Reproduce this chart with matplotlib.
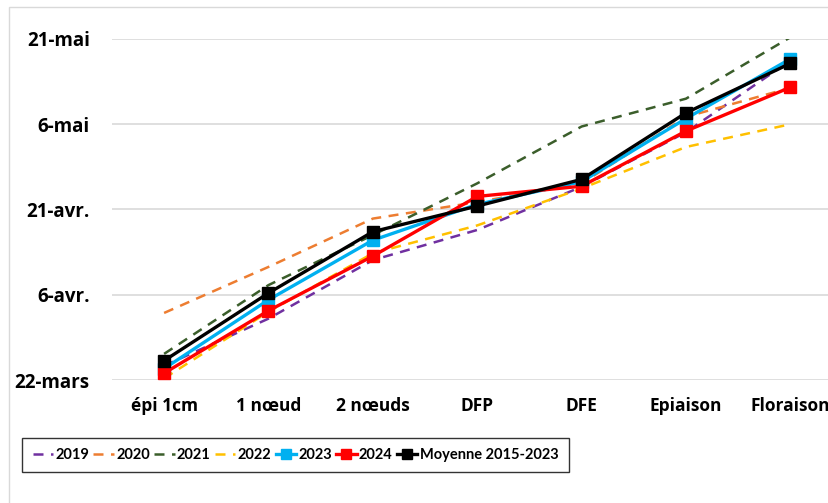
import matplotlib
matplotlib.use('Agg')
import matplotlib.pyplot as plt
from matplotlib.patches import Rectangle

# Stades et dates (jours après le 22 mars)
stades = ['épi 1cm', '1 nœud', '2 nœuds', 'DFP', 'DFE', 'Epiaison', 'Floraison']
y2019 = [2.5, 10.8, 21.1, 26.4, 34.0, 43.6, 56.2]
y2020 = [11.8, 19.9, 28.4, 31.3, 34.6, 46.3, 51.4]
y2021 = [4.6, 16.7, 25.5, 34.6, 44.6, 49.5, 60.3]
y2022 = [0.3, 12.0, 22.3, 27.2, 33.7, 41.0, 45.0]
y2023 = [2.0, 14.1, 24.6, 30.9, 34.9, 46.0, 56.5]
y2024 = [1.2, 12.2, 21.8, 32.3, 34.1, 43.8, 51.5]
moyenne = [3.4, 15.3, 26.1, 30.6, 35.3, 47.0, 55.7]

tick_pos = [0, 15, 30, 45, 60]
tick_labels = ['22-mars', '6-avr.', '21-avr.', '6-mai', '21-mai']

plt.rcParams['font.family'] = ['Open Sans', 'DejaVu Sans']
plt.rcParams['font.weight'] = 'bold'

fig = plt.figure(figsize=(8.29, 5.03), dpi=100)
fig.patches.append(Rectangle((0.011, -0.05), 1.2, 1.036, transform=fig.transFigure,
                             fill=False, edgecolor='#D9D9D9', linewidth=1.0))
ax = fig.add_axes([0.135, 0.2445, 0.865, 0.678])

x = range(len(stades))
ax.plot(x, y2019, color='#7030A0', lw=1.8, dashes=(4, 3), label='2019')
ax.plot(x, y2020, color='#ED7D31', lw=1.8, dashes=(4, 3), label='2020')
ax.plot(x, y2021, color='#3B5E2B', lw=1.8, dashes=(4, 3), label='2021')
ax.plot(x, y2022, color='#FFC000', lw=1.8, dashes=(4, 3), label='2022')
ax.plot(x, y2023, color='#00B0F0', lw=2.4, marker='s', ms=8, label='2023')
ax.plot(x, y2024, color='#FF0000', lw=2.4, marker='s', ms=8, label='2024')
ax.plot(x, moyenne, color='black', lw=2.4, marker='s', ms=8, label='Moyenne 2015-2023')

ax.set_xlim(-0.5, 6.37)
ax.set_ylim(0, 60)
ax.set_yticks(tick_pos)
ax.set_yticklabels(tick_labels, fontsize=13.5, fontweight='bold')
ax.set_xticks(list(x))
ax.set_xticklabels(stades, fontsize=12.5, fontweight='bold')
ax.tick_params(axis='y', length=0, pad=16)
ax.tick_params(axis='x', length=0, pad=12)
ax.grid(axis='y', color='#D9D9D9', lw=1.2)
ax.set_axisbelow(True)
for s in ax.spines.values():
    s.set_visible(False)

leg = fig.legend(loc='center left', bbox_to_anchor=(0.027, 1 - 455 / 503), ncol=7,
                 frameon=True, fancybox=False, edgecolor='black',
                 handlelength=1.4, handletextpad=0.15, columnspacing=0.3,
                 borderpad=0.7, borderaxespad=0, markerscale=0.9,
                 prop={'family': ['Lato', 'DejaVu Sans'], 'weight': 'bold', 'size': 10.5})
leg.get_frame().set_linewidth(1.0)

fig.savefig('out.png', dpi=100)
